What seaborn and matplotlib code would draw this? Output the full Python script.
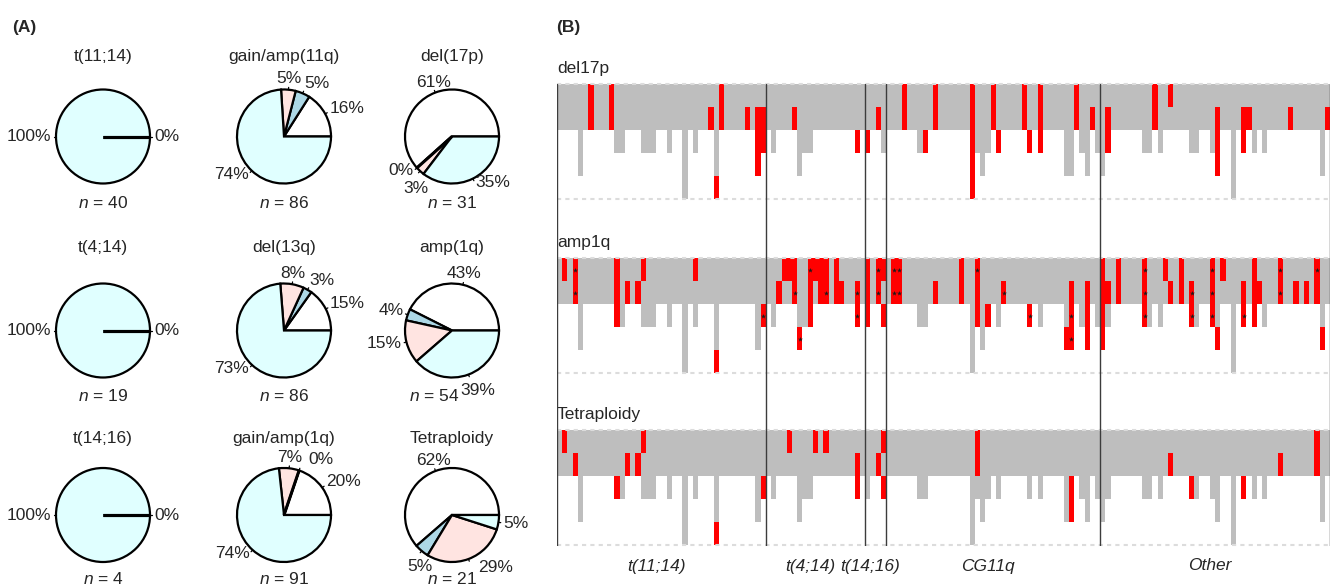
import numpy as np
import matplotlib
matplotlib.use("Agg")
import matplotlib.pyplot as plt
import seaborn as sns
from matplotlib.colors import ListedColormap

# ---------------- panel A data ----------------
pie_titles = [["t(11;14)", "gain/amp(11q)", "del(17p)"],
              ["t(4;14)", "del(13q)", "amp(1q)"],
              ["t(14;16)", "gain/amp(1q)", "Tetraploidy"]]
pie_n = [[40, 86, 31], [19, 86, 54], [4, 91, 21]]
# slice order: white, lightblue, mistyrose, lightcyan (percent)
pct_t1114 = [0, 0, 0, 100]
pct_gain11q = [16, 5, 5, 74]
pct_del17p = [61, 0, 3, 35]
pct_t414 = [0, 0, 0, 100]
pct_del13q = [15, 3, 8, 73]
pct_amp1q = [43, 4, 15, 39]
pct_t1416 = [0, 0, 0, 100]
pct_gain1q = [20, 0, 7, 74]
pct_tetra = [62, 5, 29, 5]
pie_pcts = [[pct_t1114, pct_gain11q, pct_del17p],
            [pct_t414, pct_del13q, pct_amp1q],
            [pct_t1416, pct_gain1q, pct_tetra]]
pie_colors = ["white", "lightblue", "mistyrose", "lightcyan"]

# ---------------- panel B data ----------------
groups = ["t(11;14)", "t(4;14)", "t(14;16)", "CG11q", "Other"]
# number of grey cells (from top) per patient
depth_t1114 = [2, 2, 2, 2, 4, 2, 2, 2, 2, 2, 2, 3, 3, 2, 2, 2, 3, 3, 3, 2,
               2, 3, 2, 2, 5, 2, 3, 2, 2, 2, 5, 2, 2, 2, 2, 2, 2, 2, 4, 3]
depth_t414 = [2, 3, 2, 2, 2, 2, 4, 3, 3, 2, 2, 2, 2, 2, 2, 2, 2, 3, 2]
depth_t1416 = [3, 2, 2, 3]
depth_cg11q = [2, 2, 2, 2, 2, 2, 3, 3, 2, 2, 2, 2, 2, 2, 2, 2, 5, 3, 4, 3,
               2, 3, 2, 2, 2, 2, 2, 3, 2, 3, 2, 2, 2, 2, 4, 4, 2, 3, 4, 2, 3]
depth_other = [4, 3, 2, 2, 2, 2, 2, 2, 3, 3, 2, 3, 2, 2, 2, 2, 2, 3, 3, 2,
               2, 3, 4, 2, 2, 5, 2, 3, 2, 3, 2, 3, 2, 2, 2, 2, 2, 2, 2, 2,
               2, 2, 4, 2]

# red cells: patient index -> rows (1 = top)
red_del17p = {6: [1, 2], 10: [1, 2], 29: [2], 30: [5], 31: [1, 2], 36: [2],
              38: [2, 3, 4], 39: [2, 3], 45: [2], 57: [3], 59: [3], 61: [2],
              66: [1, 2], 70: [3], 72: [1, 2], 79: [1, 2, 3, 4, 5], 83: [1, 2],
              84: [3], 89: [1, 2], 90: [3], 92: [1, 2, 3], 99: [1, 2], 102: [2],
              105: [2, 3], 114: [1, 2], 117: [1], 126: [2, 3, 4], 131: [2, 3],
              132: [2], 140: [2], 147: [2]}
red_amp1q = {1: [1], 3: [1, 2], 11: [1, 2, 3], 13: [2], 15: [2], 16: [1],
             26: [1], 30: [5], 39: [3], 42: [2], 43: [1], 44: [1], 45: [1, 2],
             46: [4], 48: [1, 2, 3], 49: [1], 50: [1, 2], 51: [1, 2],
             53: [1, 2], 54: [2], 57: [2, 3], 59: [1, 2, 3], 61: [1, 2],
             62: [1, 3], 64: [1, 2], 65: [1, 2], 72: [2], 77: [1, 2],
             80: [1, 2, 3], 82: [3], 85: [2], 90: [3], 97: [4], 98: [2, 3, 4],
             101: [2, 3, 4], 104: [1, 2, 3, 4], 105: [2], 107: [1, 2],
             112: [1, 2, 3], 116: [1], 117: [2], 119: [1, 2], 121: [2, 3],
             125: [1, 2, 3], 126: [4], 127: [1], 131: [2, 3], 133: [1, 2, 3],
             134: [2], 138: [1, 2], 141: [2], 143: [2], 145: [1, 2], 146: [4]}
red_tetra = {1: [1], 3: [2], 11: [3], 13: [2], 15: [2], 16: [1], 30: [5],
             39: [3], 44: [1], 49: [1], 51: [1], 57: [2, 3], 61: [2],
             62: [1, 3], 80: [1, 2], 98: [3, 4], 117: [2], 121: [3], 131: [3],
             138: [2], 145: [1, 2]}
# small black marks inside amp1q cells
dots_amp1q = {3: [1, 2], 39: [3], 45: [2], 46: [4], 48: [1], 51: [2],
              57: [2, 3], 61: [1, 2], 64: [1, 2], 65: [1, 2], 80: [1], 85: [2],
              90: [3], 98: [3, 4], 112: [1, 2, 3], 121: [2, 3],
              125: [1, 2, 3], 131: [3], 138: [1, 2], 145: [1]}
panel_names = ["del17p", "amp1q", "Tetraploidy"]
panel_reds = [red_del17p, red_amp1q, red_tetra]
panel_dots = [{}, dots_amp1q, {}]

# ---------------- figure ----------------
sns.set_theme(style="white")
plt.rcParams['font.family'] = ['Liberation Sans', 'DejaVu Sans']
plt.rcParams['mathtext.fontset'] = 'custom'
plt.rcParams['mathtext.rm'] = 'Liberation Sans'
plt.rcParams['mathtext.it'] = 'Liberation Sans:italic'

W, H = 1334, 587
fig = plt.figure(figsize=(W / 100, H / 100), dpi=100)
fs = 12.5


def px_axes(x0, y0, x1, y1):
    return fig.add_axes([x0 / W, 1 - y1 / H, (x1 - x0) / W, (y1 - y0) / H])


fig.text(12 / W, 1 - 32 / H, "(A)", fontsize=fs, fontweight="bold", va="baseline")
fig.text(556 / W, 1 - 32 / H, "(B)", fontsize=fs, fontweight="bold", va="baseline")

# pies
R = 47
col_x = [103, 284, 452]
row_cy = [136.5, 330.5, 515]
title_y = [56.5, 247.5, 439]
n_y = [203, 396, 579]
# label nudges in px (dx right, dy down), keyed by (row, col, slice)
nudges = {(0, 2, 2): (12, 14), (2, 1, 1): (20, 0), (2, 2, 1): (14, 12),
          (2, 2, 2): (8, 4), (1, 2, 3): (-10, 12)}
n_nudge = {(1, 2): -18}
L = 1.4
for i in range(3):
    for j in range(3):
        cx, cy = col_x[j], row_cy[i]
        ax = px_axes(cx - L * R, cy - L * R, cx + L * R, cy + L * R)
        vals = pie_pcts[i][j]
        ax.pie(vals, colors=pie_colors, startangle=0, counterclock=True, radius=1,
               wedgeprops=dict(edgecolor="black", linewidth=1.6))
        ax.set_xlim(-L, L)
        ax.set_ylim(-L, L)
        ax.set_aspect("auto")
        total = sum(vals)
        start = 0
        seen = set()
        for k, v in enumerate(vals):
            a0 = np.deg2rad(360 * start / total)
            mid = np.deg2rad(360 * (start + v / 2) / total)
            start += v
            if v == 0:
                # empty slice still shows its radius
                ax.plot([0, np.cos(a0)], [0, np.sin(a0)], color="black", lw=2.2,
                        solid_capstyle="butt")
            key = (round(float(mid), 4), v)
            if key in seen:
                continue
            seen.add(key)
            c, s = np.cos(mid), np.sin(mid)
            ax.plot([c, 1.05 * c], [s, 1.05 * s], color="black", lw=0.9)
            if s > 0 and abs(c) < 0.36:
                ha = "center"
            else:
                ha = "left" if c > 0 else "right"
            dx, dy = nudges.get((i, j, k), (0, 0))
            x = 1.1 * c + dx / R
            y = 1.1 * s + 0.14 * max(s, 0) - dy / R
            ax.text(x, y, f"{v}%", ha=ha, va="center", fontsize=fs, clip_on=False)
        ax.text(0, (cy - title_y[i]) / R, pie_titles[i][j], ha="center",
                va="center", fontsize=fs)
        ax.text(n_nudge.get((i, j), 0) / R, -(n_y[i] - cy) / R,
                rf"$n$ = {pie_n[i][j]}", ha="center", va="center", fontsize=fs)

# panel B
depth = depth_t1114 + depth_t414 + depth_t1416 + depth_cg11q + depth_other
sizes = [len(depth_t1114), len(depth_t414), len(depth_t1416),
         len(depth_cg11q), len(depth_other)]
ncol = len(depth)
nrow = 5
bx0, bx1 = 557, 1330
tops = [84, 258, 430]
ph = 115
cmap = ListedColormap(["white", "#BEBEBE", "#FF0000"])

for p in range(3):
    mat = np.zeros((nrow, ncol))
    for c, d in enumerate(depth):
        mat[:d, c] = 1
    for c, rows in panel_reds[p].items():
        for r in rows:
            mat[r - 1, c] = 2
    ax = px_axes(bx0, tops[p], bx1, tops[p] + ph)
    sns.heatmap(mat, ax=ax, cmap=cmap, vmin=0, vmax=2, cbar=False,
                xticklabels=False, yticklabels=False, linewidths=0)
    for yy in (0, nrow):
        ax.axhline(yy, color="#DCDCDC", lw=1.5, ls=(0, (2, 2)), clip_on=False)
    dx_, dy_ = [], []
    for c, rows in panel_dots[p].items():
        for r in rows:
            dx_.append(c + 0.5)
            dy_.append(r - 0.5)
    if dx_:
        ax.scatter(dx_, dy_, marker="*", s=14, color="#1a1a1a", linewidths=0,
                   zorder=3)
    ax.text(0, -0.5, panel_names[p], ha="left", va="baseline", fontsize=fs)

ov = px_axes(bx0, tops[0], bx1, tops[2] + ph + 1)
ov.set_xlim(0, ncol)
ov.set_ylim(0, 1)
ov.patch.set_alpha(0)
ov.axis("off")
bounds = np.concatenate([[0], np.cumsum(sizes)])
for b in bounds:
    ov.axvline(b, color="#3c3c3c", lw=1.0)
for g, a, b in zip(groups, bounds[:-1], bounds[1:]):
    ov.annotate(g, xy=((a + b) / 2 - 1, 0), xycoords=("data", "axes fraction"),
                xytext=(0, -20), textcoords="offset pixels", ha="center",
                va="center", fontsize=fs, style="italic")

fig.savefig("out.png", dpi=100)
